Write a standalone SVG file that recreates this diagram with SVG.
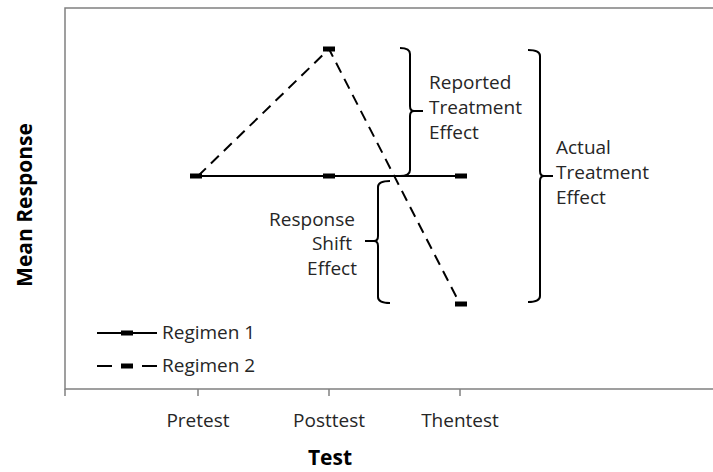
<svg xmlns="http://www.w3.org/2000/svg" width="713" height="472" viewBox="0 0 713 472">
  <style>
    .axis { stroke: #808080; stroke-width: 1.5; fill: none; }
    .lbl { font-family: "Open Sans", "Liberation Sans", sans-serif; font-size: 19px; fill: #262626; }
    .title { font-family: "Open Sans", "Liberation Sans", sans-serif; font-size: 21px; font-weight: bold; fill: #000; }
    .solid { stroke: #000; stroke-width: 2; fill: none; }
    .dash { stroke: #000; stroke-width: 2; fill: none; stroke-dasharray: 11 7; }
    .brace { stroke: #000; stroke-width: 2; fill: none; }
    .mk { fill: #000; }
  </style>
  <defs>
    <rect id="marker" x="-6" y="-2.5" width="12" height="5" class="mk"/>
  </defs>
  <rect x="0" y="0" width="713" height="472" fill="#fff"/>

  <g id="plot-area">
    <polyline class="axis" points="713,8 65,8 65,389 713,389"/>
    <g id="ticks" class="axis">
      <line x1="65" y1="389" x2="65" y2="396"/>
      <line x1="198" y1="389" x2="198" y2="396"/>
      <line x1="329" y1="389" x2="329" y2="396"/>
      <line x1="460" y1="389" x2="460" y2="396"/>
    </g>
    <text class="lbl" x="198" y="427" text-anchor="middle">Pretest</text>
    <text class="lbl" x="329" y="427" text-anchor="middle">Posttest</text>
    <text class="lbl" x="460" y="427" text-anchor="middle">Thentest</text>
    <text class="title" x="330" y="465" text-anchor="middle">Test</text>
    <text class="title" transform="translate(32,205) rotate(-90)" text-anchor="middle">Mean Response</text>
  </g>

  <g id="connectors">
    <polyline id="regimen1" class="solid" points="193,176 466,176"/>
    <polyline id="regimen2" class="dash" points="198,176 329,49 460,304"/>
  </g>

  <g id="markers">
    <use href="#marker" x="196" y="176"/>
    <use href="#marker" x="329" y="176"/>
    <use href="#marker" x="461" y="176"/>
    <use href="#marker" x="329" y="49"/>
    <use href="#marker" x="461" y="304"/>
  </g>

  <g id="brace-reported">
    <path class="brace" d="M400,48 Q410,48 410,54 L410,106 Q410,111 414,111 L423,111 M414,111 Q410,111 410,116 L410,170 Q410,176 400,176"/>
    <text class="lbl" x="429" y="89">Reported</text>
    <text class="lbl" x="429" y="114">Treatment</text>
    <text class="lbl" x="429" y="139">Effect</text>
  </g>

  <g id="brace-actual">
    <path class="brace" d="M528,50 Q540,50 540,56 L540,171 Q540,176 544,176 L553,176 M544,176 Q540,176 540,181 L540,296 Q540,302 528,302"/>
    <text class="lbl" x="556" y="154">Actual</text>
    <text class="lbl" x="556" y="179">Treatment</text>
    <text class="lbl" x="556" y="204">Effect</text>
  </g>

  <g id="brace-shift">
    <path class="brace" d="M390,181 Q378,181 378,187 L378,236 Q378,241 374,241 L365,241 M374,241 Q378,241 378,246 L378,297 Q378,303 390,303"/>
    <text class="lbl" x="355" y="226" text-anchor="end">Response</text>
    <text class="lbl" x="352" y="250" text-anchor="end">Shift</text>
    <text class="lbl" x="357" y="275" text-anchor="end">Effect</text>
  </g>

  <g id="legend">
    <line class="solid" x1="97" y1="333" x2="157" y2="333"/>
    <use href="#marker" x="127" y="333"/>
    <text class="lbl" x="162" y="339">Regimen 1</text>
    <line class="solid" x1="97" y1="366" x2="112" y2="366"/>
    <line class="solid" x1="121" y1="366" x2="133" y2="366"/>
    <line class="solid" x1="142" y1="366" x2="157" y2="366"/>
    <use href="#marker" x="127" y="366"/>
    <text class="lbl" x="162" y="372">Regimen 2</text>
  </g>
</svg>
